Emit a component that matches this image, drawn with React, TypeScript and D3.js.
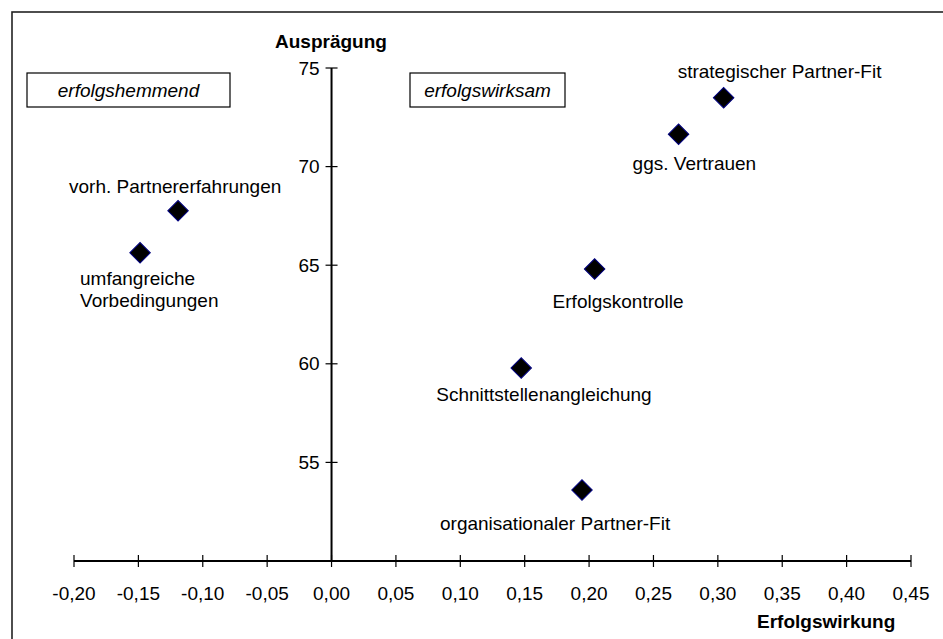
import React, { useEffect, useRef } from "react";
import * as d3 from "d3";

const names = [
  "strategischer Partner-Fit",
  "ggs. Vertrauen",
  "vorh. Partnererfahrungen",
  "umfangreiche Vorbedingungen",
  "Erfolgskontrolle",
  "Schnittstellenangleichung",
  "organisationaler Partner-Fit",
];
const labelLines = [
  ["strategischer Partner-Fit"],
  ["ggs. Vertrauen"],
  ["vorh. Partnererfahrungen"],
  ["umfangreiche", "Vorbedingungen"],
  ["Erfolgskontrolle"],
  ["Schnittstellenangleichung"],
  ["organisationaler Partner-Fit"],
];
const erfolgswirkung = [0.3045, 0.2695, -0.1192, -0.1487, 0.2043, 0.1473, 0.1945];
const auspraegung = [73.49, 71.64, 67.76, 65.63, 64.81, 59.79, 53.6];
const xTicks = [-0.2, -0.15, -0.1, -0.05, 0, 0.05, 0.1, 0.15, 0.2, 0.25, 0.3, 0.35, 0.4, 0.45];
const yTicks = [55, 60, 65, 70, 75];
const quadrantLabels = ["erfolgshemmend", "erfolgswirksam"];
const xTitle = "Erfolgswirkung";
const yTitle = "Ausprägung";

// layout (label offsets relative to marker, pixels)
const labelOffsets: [number, number][] = [
  [-46, -20],
  [-46, 36],
  [-109, -18],
  [-60, 32],
  [-42, 39],
  [-85, 33],
  [-142, 40],
];

const W = 943;
const H = 639;
const FONT = "'Liberation Sans', Arial, sans-serif";

export default function App() {
  const ref = useRef<SVGSVGElement>(null);

  useEffect(() => {
    const svg = d3.select(ref.current);
    svg.selectAll("*").remove();

    const x = d3.scaleLinear().domain([-0.2, 0.45]).range([74, 911]);
    const y = d3.scaleLinear().domain([50, 75]).range([561, 68]);
    const fmt = (v: number) => d3.format(".2f")(v).replace(".", ",").replace("−", "-");

    svg.append("rect").attr("width", W).attr("height", H).attr("fill", "#fff");

    // outer frame (extends beyond the visible area on right/bottom)
    svg
      .append("rect")
      .attr("x", 12)
      .attr("y", 12)
      .attr("width", W + 50)
      .attr("height", H + 50)
      .attr("fill", "none")
      .attr("stroke", "#222")
      .attr("stroke-width", 1.6);

    const g = svg.append("g").attr("font-family", FONT).attr("fill", "#000");

    // x axis
    g.append("line")
      .attr("x1", x(-0.2))
      .attr("x2", x(0.45))
      .attr("y1", y(50))
      .attr("y2", y(50))
      .attr("stroke", "#000")
      .attr("stroke-width", 2);
    g.selectAll(".xt")
      .data(xTicks)
      .enter()
      .append("line")
      .attr("x1", (d) => x(d))
      .attr("x2", (d) => x(d))
      .attr("y1", y(50) - 6)
      .attr("y2", y(50) + 6)
      .attr("stroke", "#000")
      .attr("stroke-width", 1.2);
    g.selectAll(".xl")
      .data(xTicks)
      .enter()
      .append("text")
      .attr("x", (d) => x(d))
      .attr("y", 600)
      .attr("text-anchor", "middle")
      .attr("font-size", 19)
      .text((d) => fmt(d));

    // y axis
    g.append("line")
      .attr("x1", x(0))
      .attr("x2", x(0))
      .attr("y1", y(75))
      .attr("y2", y(50))
      .attr("stroke", "#000")
      .attr("stroke-width", 2);
    g.selectAll(".yt")
      .data(yTicks)
      .enter()
      .append("line")
      .attr("x1", x(0) - 6)
      .attr("x2", x(0) + 6)
      .attr("y1", (d) => y(d))
      .attr("y2", (d) => y(d))
      .attr("stroke", "#000")
      .attr("stroke-width", 1.2);
    g.selectAll(".yl")
      .data(yTicks)
      .enter()
      .append("text")
      .attr("x", x(0) - 12)
      .attr("y", (d) => y(d))
      .attr("dy", "0.35em")
      .attr("text-anchor", "end")
      .attr("font-size", 19)
      .text((d) => String(d));

    // axis titles
    g.append("text")
      .attr("x", 275)
      .attr("y", 48)
      .attr("font-size", 19)
      .attr("font-weight", "bold")
      .text(yTitle);
    g.append("text")
      .attr("x", 757)
      .attr("y", 628)
      .attr("font-size", 19)
      .attr("font-weight", "bold")
      .text(xTitle);

    // quadrant boxes
    const boxes = [
      { x0: 27, x1: 230 },
      { x0: 410, x1: 565 },
    ];
    quadrantLabels.forEach((t, i) => {
      const b = boxes[i];
      g.append("rect")
        .attr("x", b.x0)
        .attr("y", 73)
        .attr("width", b.x1 - b.x0)
        .attr("height", 34)
        .attr("fill", "#fff")
        .attr("stroke", "#000")
        .attr("stroke-width", 1.2);
      g.append("text")
        .attr("x", (b.x0 + b.x1) / 2)
        .attr("y", 97)
        .attr("text-anchor", "middle")
        .attr("font-size", 19)
        .attr("font-style", "italic")
        .text(t);
    });

    // markers
    const diamond = d3.symbol().type(d3.symbolDiamond2).size(200);
    names.forEach((n, i) => {
      const px = x(erfolgswirkung[i]);
      const py = y(auspraegung[i]);
      g.append("path")
        .attr("d", d3.symbol().type(d3.symbolSquare).size(210)())
        .attr("transform", `translate(${px},${py}) rotate(45)`)
        .attr("fill", "#000")
        .attr("stroke", "#000080")
        .attr("stroke-width", 1);
      const [dx, dy] = labelOffsets[i];
      const t = g
        .append("text")
        .attr("x", px + dx)
        .attr("y", py + dy)
        .attr("font-size", 19);
      labelLines[i].forEach((line, j) => {
        t.append("tspan")
          .attr("x", px + dx)
          .attr("dy", j === 0 ? 0 : 22)
          .text(line);
      });
    });
    void diamond;
  }, []);

  return (
    <svg
      ref={ref}
      width={W}
      height={H}
      style={{ position: "absolute", left: 0, top: 0, display: "block" }}
    />
  );
}
